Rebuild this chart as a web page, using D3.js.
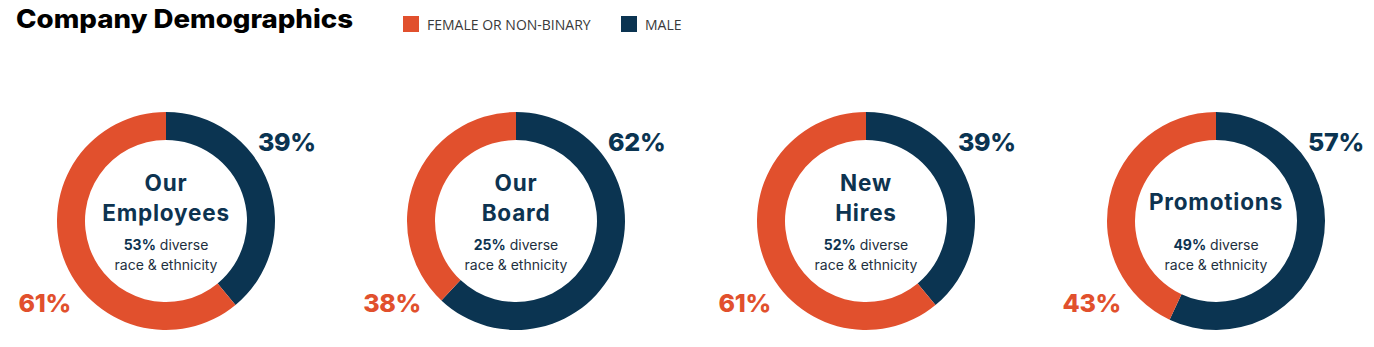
<!DOCTYPE html>
<html>
<head>
<meta charset="utf-8">
<script src="https://cdn.jsdelivr.net/npm/d3@7"></script>
<style>
  html, body { margin: 0; padding: 0; background: #ffffff; }
  svg { display: block; }
</style>
</head>
<body>
<svg id="chart" width="1374" height="347"></svg>
<script>
// Company demographics: share of male vs. female/non-binary per group
const groups = ["Our Employees", "Our Board", "New Hires", "Promotions"];
const titleLines = [["Our", "Employees"], ["Our", "Board"], ["New", "Hires"], ["Promotions"]];
const maleShare = [39, 62, 39, 57];
const femaleShare = [61, 38, 61, 43];
const diverseShare = [53, 25, 52, 49];
const legendLabels = ["FEMALE OR NON-BINARY", "MALE"];

const ORANGE = "#e1502d";
const NAVY = "#0b3451";
const TEXT_NAVY = "#0d3350";

const svg = d3.select("#chart");
const font = "Inter, 'Liberation Sans', sans-serif";

// Title
svg.append("text")
  .attr("x", 16).attr("y", 28)
  .attr("font-family", font)
  .attr("font-weight", 800)
  .attr("font-size", 25.5)
  .attr("fill", "#000")
  .attr("textLength", 337)
  .attr("lengthAdjust", "spacingAndGlyphs")
  .text("Company Demographics");

// Legend
const colour = d3.scaleOrdinal().domain(legendLabels).range([ORANGE, NAVY]);
const legendX = d3.scaleOrdinal().domain(legendLabels).range([403, 621]);
const legend = svg.append("g");
const li = legend.selectAll("g").data(legendLabels).join("g")
  .attr("transform", d => `translate(${legendX(d)},16)`);
li.append("rect").attr("width", 16).attr("height", 16).attr("fill", d => colour(d));
li.append("text")
  .attr("x", 24).attr("y", 14)
  .attr("font-family", "'Open Sans', sans-serif")
  .attr("font-size", 14)
  .attr("fill", "#3a3a3a")
  .text(d => d);

// Donuts
const x = d3.scalePoint().domain(groups).range([166, 1216]);
const cy = 221;
const outerR = 109;
const innerR = 81;

const pie = d3.pie().sort(null).value(d => d.value);
const arc = d3.arc().innerRadius(innerR).outerRadius(outerR);

groups.forEach((g, i) => {
  const cx = x(g);
  const gg = svg.append("g").attr("transform", `translate(${cx},${cy})`);
  const data = [
    { key: "MALE", value: maleShare[i] },
    { key: "FEMALE OR NON-BINARY", value: femaleShare[i] }
  ];
  gg.selectAll("path").data(pie(data)).join("path")
    .attr("d", arc)
    .attr("fill", d => colour(d.data.key));

  // Percentage labels
  gg.append("text")
    .attr("x", 92).attr("y", -70)
    .attr("font-family", font).attr("font-weight", 800)
    .attr("font-size", 25).attr("fill", NAVY)
    .attr("letter-spacing", -0.3)
    .text(maleShare[i] + "%");
  gg.append("text")
    .attr("x", -95).attr("y", 91)
    .attr("text-anchor", "end")
    .attr("font-family", font).attr("font-weight", 800)
    .attr("font-size", 25).attr("fill", ORANGE)
    .attr("letter-spacing", -0.3)
    .text(femaleShare[i] + "%");

  // Centre title
  const lines = titleLines[i];
  const baselines = lines.length === 2 ? [-30, 0] : [-11];
  lines.forEach((ln, j) => {
    gg.append("text")
      .attr("x", 0).attr("y", baselines[j])
      .attr("text-anchor", "middle")
      .attr("font-family", font).attr("font-weight", 700)
      .attr("font-size", 22.5).attr("fill", TEXT_NAVY)
      .attr("letter-spacing", 0.8)
      .text(ln);
  });

  // Diversity note
  const t1 = gg.append("text")
    .attr("x", 0).attr("y", 29)
    .attr("text-anchor", "middle")
    .attr("font-family", font)
    .attr("font-size", 14).attr("fill", "#1e2f3e");
  t1.append("tspan").attr("font-weight", 700).attr("fill", TEXT_NAVY).text(diverseShare[i] + "%");
  t1.append("tspan").text(" diverse");
  gg.append("text")
    .attr("x", 0).attr("y", 49)
    .attr("text-anchor", "middle")
    .attr("font-family", font)
    .attr("font-size", 14).attr("fill", "#1e2f3e")
    .text("race & ethnicity");
});
</script>
</body>
</html>
